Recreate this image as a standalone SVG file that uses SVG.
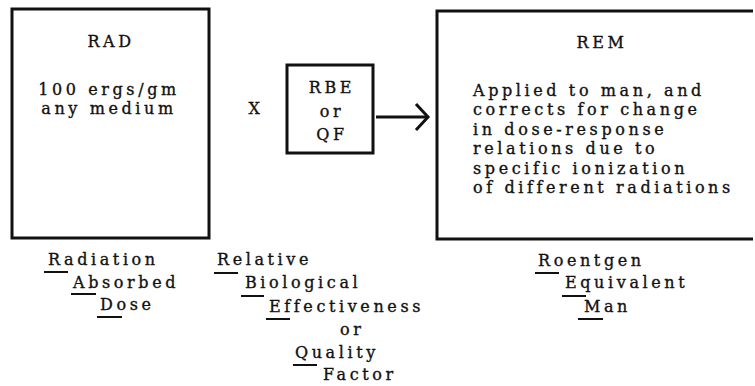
<svg xmlns="http://www.w3.org/2000/svg" width="755" height="386" viewBox="0 0 755 386">
  <style>
    .box { fill: none; stroke: #111; stroke-width: 3; }
    .t { font-family: "DejaVu Serif", "Liberation Serif", serif; font-size: 16px; fill: #111; stroke: #111; stroke-width: 0.35px; letter-spacing: 3.6px; }
    .m { text-anchor: middle; }
    .ul { stroke: #111; stroke-width: 2; }
    .conn { stroke: #111; stroke-width: 3; fill: none; }
  </style>
  <defs>
    <marker id="chev" markerUnits="userSpaceOnUse" markerWidth="20" markerHeight="32" viewBox="-16 -16 20 32" refX="0" refY="0" orient="auto">
      <path d="M-12,-13 L0,0 L-12,13" fill="none" stroke="#111" stroke-width="3"/>
    </marker>
  </defs>
  <rect width="755" height="386" fill="#fff"/>

  <g id="rad">
    <rect class="box" x="12" y="9" width="197" height="229"/>
    <text class="t m" x="111" y="47">RAD</text>
    <text class="t m" x="109" y="95">100 ergs/gm</text>
    <text class="t m" x="109" y="114">any medium</text>
  </g>

  <g id="times">
    <text class="t m" x="256" y="114">X</text>
  </g>

  <g id="rbe">
    <rect class="box" x="287" y="65" width="86" height="88"/>
    <text class="t m" x="332" y="93">RBE</text>
    <text class="t m" x="332" y="117">or</text>
    <text class="t m" x="332" y="140">QF</text>
  </g>

  <g id="rem">
    <path class="box" d="M753,11 H437 V239 H753"/>
    <text class="t m" x="602" y="48">REM</text>
    <text class="t" x="473" y="96">Applied to man, and</text>
    <text class="t" x="473" y="115">corrects for change</text>
    <text class="t" x="473" y="135">in dose-response</text>
    <text class="t" x="473" y="154">relations due to</text>
    <text class="t" x="473" y="174">specific ionization</text>
    <text class="t" x="473" y="193">of different radiations</text>
  </g>

  <g id="connectors">
    <line class="conn" x1="376" y1="117" x2="428" y2="117" marker-end="url(#chev)"/>
  </g>

  <g id="rad-label">
    <text class="t" x="48" y="265">Radiation</text>
    <line class="ul" x1="44" y1="272" x2="68" y2="272"/>
    <text class="t" x="73" y="288">Absorbed</text>
    <line class="ul" x1="71" y1="294" x2="96" y2="294"/>
    <text class="t" x="100" y="310">Dose</text>
    <line class="ul" x1="97" y1="317" x2="122" y2="317"/>
  </g>

  <g id="rbe-label">
    <text class="t" x="217" y="265">Relative</text>
    <line class="ul" x1="214" y1="273" x2="238" y2="273"/>
    <text class="t" x="245" y="288">Biological</text>
    <line class="ul" x1="241" y1="296" x2="264" y2="296"/>
    <text class="t" x="269" y="312">Effectiveness</text>
    <line class="ul" x1="266" y1="319" x2="290" y2="319"/>
    <text class="t" x="340" y="335">or</text>
    <text class="t" x="295" y="358">Quality</text>
    <line class="ul" x1="293" y1="365" x2="317" y2="365"/>
    <text class="t" x="323" y="380">Factor</text>
  </g>

  <g id="rem-label">
    <text class="t" x="538" y="266">Roentgen</text>
    <line class="ul" x1="535" y1="273" x2="559" y2="273"/>
    <text class="t" x="565" y="288">Equivalent</text>
    <line class="ul" x1="562" y1="296" x2="586" y2="296"/>
    <text class="t" x="584" y="312">Man</text>
    <line class="ul" x1="578" y1="319" x2="603" y2="319"/>
  </g>
</svg>
